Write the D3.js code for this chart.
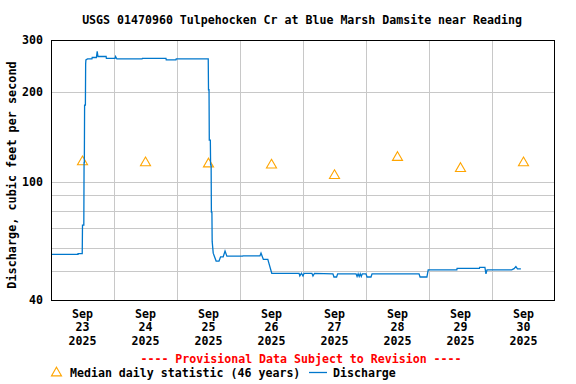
<!DOCTYPE html>
<html>
<head>
<meta charset="utf-8">
<script src="https://cdn.jsdelivr.net/npm/d3@7"></script>
<style>
  html, body { margin: 0; padding: 0; background: #fff; }
  text { font-family: "DejaVu Sans Mono", "Liberation Mono", monospace; font-weight: bold; }
</style>
</head>
<body>
<div id="chart"></div>
<script>
// Svg defs
let w = 576,
    h = 384;
let margin = {left: 51, right: 21, top: 40, bottom: 84};

// Data defs
let title = "USGS 01470960 Tulpehocken Cr at Blue Marsh Damsite near Reading";
let yLabel = "Discharge, cubic feet per second";
let days = ["23", "24", "25", "26", "27", "28", "29", "30"];
let yTicks = [40, 100, 200, 300];
let yGrid = [50, 60, 70, 80, 90, 100, 200];

// median daily statistic, one per day (plotted at noon)
let medians = [118, 117, 116, 115, 106, 122, 112, 117];

// discharge: [hours since Sep 23 00:00, cfs]
let discharge = [
  [0, 57.0], [10.3, 57.0], [10.3, 57.3], [11.9, 57.3], [12.0, 71.5], [12.5, 71.5],
  [12.6, 116], [12.7, 116], [12.8, 181], [13.1, 181], [13.2, 249], [13.3, 257],
  [13.9, 259], [15.6, 259], [15.7, 262], [17.3, 262], [17.6, 275], [17.9, 264],
  [21.0, 264], [21.1, 260], [24.4, 260], [24.6, 264], [25.1, 259], [34.7, 259],
  [34.8, 260], [43.8, 260], [43.9, 257], [47.6, 257], [47.7, 259], [59.9, 259],
  [60.0, 204], [60.2, 204], [60.3, 138], [60.7, 138], [60.8, 114], [61.0, 114],
  [61.1, 79], [61.3, 79], [61.4, 63], [61.8, 57.5], [62.9, 54.1], [64.0, 54.1],
  [64.6, 55.9], [65.6, 55.9], [66.3, 58.5], [67.0, 56.2], [73.0, 56.2], [73.1, 56.3],
  [79.6, 56.3], [80.0, 57.5], [80.9, 54.8], [82.6, 54.8], [83.0, 53.2], [84.1, 49.2],
  [94.5, 49.2], [94.8, 48.2], [95.4, 49.2], [96.0, 48.2], [96.4, 49.2], [99.4, 49.2],
  [99.8, 48.2], [100.4, 49.2], [107.4, 49.0], [107.8, 47.8], [108.8, 47.8], [109.2, 49.0],
  [116.2, 49.0], [116.6, 48.0], [117.0, 49.0], [117.4, 48.0], [117.8, 49.0], [118.2, 48.0],
  [118.6, 49.0], [120.0, 49.0], [120.4, 47.8], [121.9, 47.8], [122.3, 49.0], [140.2, 49.0],
  [140.6, 47.8], [143.2, 47.8], [143.7, 50.5], [154.6, 50.5], [154.7, 51.1], [163.2, 51.1],
  [163.3, 51.5], [165.3, 51.5], [165.7, 49.0], [166.1, 50.5], [175.5, 50.5], [176.4, 51.0],
  [177.1, 51.8], [177.7, 50.9], [179.0, 50.9]
];

let t0 = Date.UTC(2025, 8, 23);
let hour = 3600 * 1000;

let x = d3.scaleUtc()
  .domain([new Date(t0), new Date(t0 + 8 * 24 * hour)])
  .range([margin.left, w - margin.right]);
let y = d3.scaleLog()
  .domain([40, 300])
  .range([h - margin.bottom, margin.top]);

let svg = d3.select("#chart")
  .append("svg")
  .attr("width", w)
  .attr("height", h)
  .attr("viewBox", [0, 0, w, h]);

// Title
svg.append("text")
  .attr("x", 302)
  .attr("y", 24)
  .attr("text-anchor", "middle")
  .style("font-size", "11.6px")
  .text(title);

// Grid
let grid = svg.append("g")
  .attr("stroke", "#c8c8c8")
  .attr("stroke-width", 1)
  .attr("shape-rendering", "crispEdges");

grid.selectAll("line.h")
  .data(yGrid)
  .join("line")
  .attr("class", "h")
  .attr("x1", margin.left)
  .attr("x2", w - margin.right)
  .attr("y1", (d) => Math.round(y(d)) + 0.5)
  .attr("y2", (d) => Math.round(y(d)) + 0.5);

let midnights = d3.range(1, 8).map((i) => new Date(t0 + i * 24 * hour));
grid.selectAll("line.v")
  .data(midnights)
  .join("line")
  .attr("class", "v")
  .attr("x1", (d) => Math.round(x(d)) + 0.5)
  .attr("x2", (d) => Math.round(x(d)) + 0.5)
  .attr("y1", margin.top)
  .attr("y2", h - margin.bottom);

// Median triangles (symbol origin is the centroid, nudge down to centre the box)
let tri = d3.symbol().type(d3.symbolTriangle).size(44);
svg.append("g")
  .selectAll("path")
  .data(medians)
  .join("path")
  .attr("d", tri)
  .attr("transform", (d, i) => `translate(${x(new Date(t0 + (i * 24 + 12) * hour))},${y(d) + 1.4})`)
  .attr("fill", "none")
  .attr("stroke", "#ffa500")
  .attr("stroke-width", 1.1);

// Discharge line
let line = d3.line()
  .x((d) => x(new Date(t0 + d[0] * hour)))
  .y((d) => y(d[1]));
svg.append("path")
  .datum(discharge)
  .attr("d", line)
  .attr("fill", "none")
  .attr("stroke", "#0077cc")
  .attr("stroke-width", 1.3)
  .attr("stroke-linejoin", "miter");

// Frame
svg.append("rect")
  .attr("x", margin.left + 0.5)
  .attr("y", margin.top + 0.5)
  .attr("width", w - margin.left - margin.right - 1)
  .attr("height", h - margin.top - margin.bottom)
  .attr("fill", "none")
  .attr("stroke", "#000")
  .attr("stroke-width", 1.2)
  .attr("shape-rendering", "crispEdges");

// Y tick labels
svg.append("g")
  .selectAll("text")
  .data(yTicks)
  .join("text")
  .attr("x", 43)
  .attr("y", (d) => y(d) + 4)
  .attr("text-anchor", "end")
  .style("font-size", "11.6px")
  .text((d) => d);

// Y label
svg.append("text")
  .attr("transform", "translate(16,175) rotate(-90)")
  .attr("text-anchor", "middle")
  .style("font-size", "11.8px")
  .text(yLabel);

// X labels
let xl = svg.append("g")
  .selectAll("text")
  .data(days)
  .join("text")
  .attr("text-anchor", "middle")
  .style("font-size", "11.6px")
  .attr("transform", (d, i) => `translate(${x(new Date(t0 + (i * 24 + 12) * hour))},0)`);
xl.append("tspan").attr("x", 0).attr("y", 318).text("Sep");
xl.append("tspan").attr("x", 0).attr("y", 331).text((d) => d);
xl.append("tspan").attr("x", 0).attr("y", 345).text("2025");

// Provisional note
svg.append("text")
  .attr("x", 301)
  .attr("y", 363)
  .attr("text-anchor", "middle")
  .attr("fill", "#ff0000")
  .style("font-size", "11.6px")
  .text("---- Provisional Data Subject to Revision ----");

// Legend
svg.append("path")
  .attr("d", tri)
  .attr("transform", "translate(56.5,373)")
  .attr("fill", "none")
  .attr("stroke", "#ffa500")
  .attr("stroke-width", 1.1);
svg.append("text")
  .attr("x", 70)
  .attr("y", 377)
  .style("font-size", "11.6px")
  .text("Median daily statistic (46 years)");
svg.append("line")
  .attr("x1", 309).attr("x2", 327)
  .attr("y1", 372.5).attr("y2", 372.5)
  .attr("stroke", "#0077cc")
  .attr("stroke-width", 1.3);
svg.append("text")
  .attr("x", 333)
  .attr("y", 377)
  .style("font-size", "11.6px")
  .text("Discharge");
</script>
</body>
</html>
